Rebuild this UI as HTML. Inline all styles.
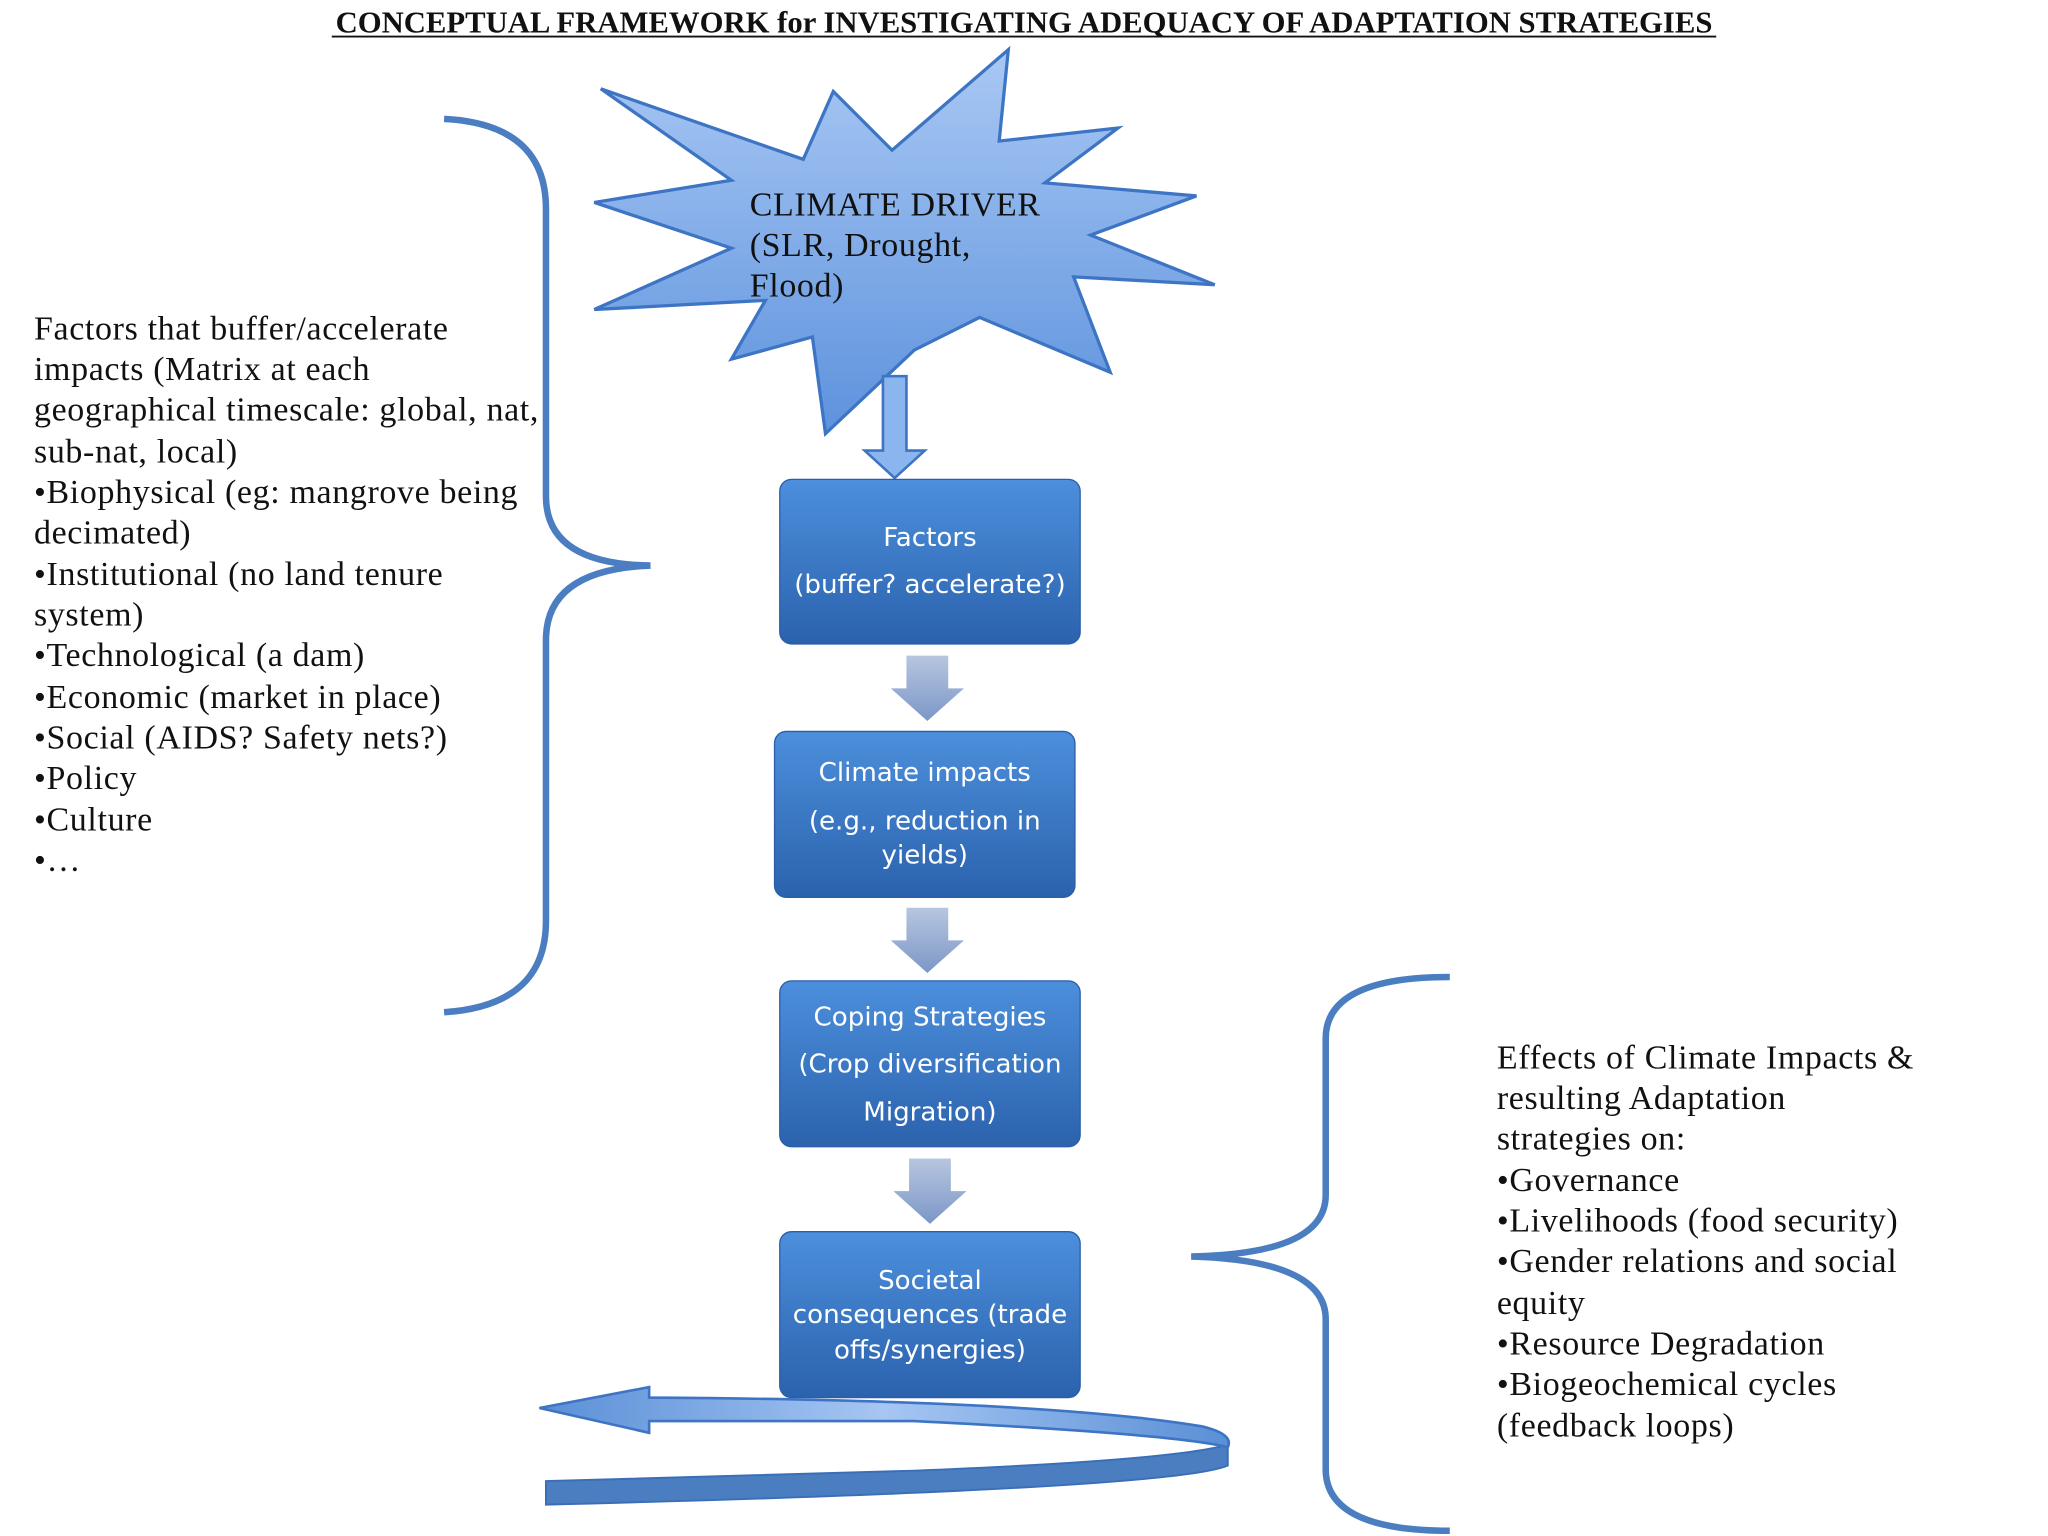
<!DOCTYPE html>
<html><head><meta charset="utf-8"><style>
html,body{margin:0;padding:0;background:#fff;}
svg{display:block;}
.s{font-family:"Liberation Serif","DejaVu Serif",serif;font-size:26px;letter-spacing:0.5px;fill:#111;}
.b{font-family:"DejaVu Sans","Liberation Sans",sans-serif;font-size:20px;fill:#fff;}
</style></head><body>
<svg width="2048" height="1536" viewBox="0 0 1568 1176" xmlns="http://www.w3.org/2000/svg">
<defs>
<linearGradient id="bx" x1="0" y1="0" x2="0" y2="1"><stop offset="0" stop-color="#4c8fdc"/><stop offset="1" stop-color="#2b62ad"/></linearGradient>
<linearGradient id="st" x1="0" y1="0" x2="0" y2="1"><stop offset="0" stop-color="#a9c8f4"/><stop offset="1" stop-color="#5d92dd"/></linearGradient>
<linearGradient id="ga" x1="0" y1="0" x2="0" y2="1"><stop offset="0" stop-color="#b7c6e0"/><stop offset="1" stop-color="#7c97c6"/></linearGradient>
<linearGradient id="ba" x1="0" y1="0" x2="1" y2="0"><stop offset="0" stop-color="#5a8fd6"/><stop offset="0.5" stop-color="#a6c6f3"/><stop offset="1" stop-color="#5a8fd6"/></linearGradient>
</defs>
<text x="784" y="25" text-anchor="middle" font-family="Liberation Serif,serif" font-weight="bold" font-size="23.5" fill="#111">CONCEPTUAL FRAMEWORK for INVESTIGATING ADEQUACY OF ADAPTATION STRATEGIES</text>
<line x1="254" y1="28" x2="1314" y2="28" stroke="#111" stroke-width="1.5"/>

<path d="M460,68 L615,122 L638,70 L683,115 L772,38 L765,108 L856,98 L800,140 L916,150 L835,180 L930,218 L822,212 L850,285 L750,243 L700,268 L632,332 L622,258 L560,275 L586,230 L455,237 L560,190 L455,155 L560,138 Z" fill="url(#st)" stroke="#3d74c4" stroke-width="2.5"/>
<text class="s" x="574" y="165">CLIMATE DRIVER</text>
<text class="s" x="574" y="196">(SLR, Drought,</text>
<text class="s" x="574" y="227">Flood)</text>

<path d="M676,288 L694,288 L694,345 L708,345 L685,366 L662,345 L676,345 Z" fill="#8ab5ee" stroke="#3d74c4" stroke-width="2"/>

<rect x="597" y="367" width="230" height="126" rx="9" fill="url(#bx)" stroke="#2a5ea8"/>
<text class="b" x="712" y="418" text-anchor="middle">Factors</text>
<text class="b" x="712" y="454" text-anchor="middle">(buffer? accelerate?)</text>

<rect x="593" y="560" width="230" height="127" rx="9" fill="url(#bx)" stroke="#2a5ea8"/>
<text class="b" x="708" y="598" text-anchor="middle">Climate impacts</text>
<text class="b" x="708" y="635" text-anchor="middle">(e.g., reduction in</text>
<text class="b" x="708" y="661" text-anchor="middle">yields)</text>

<rect x="597" y="751" width="230" height="127" rx="9" fill="url(#bx)" stroke="#2a5ea8"/>
<text class="b" x="712" y="785" text-anchor="middle">Coping Strategies</text>
<text class="b" x="712" y="821" text-anchor="middle">(Crop diversification</text>
<text class="b" x="712" y="858" text-anchor="middle">Migration)</text>

<rect x="597" y="943" width="230" height="127" rx="9" fill="url(#bx)" stroke="#2a5ea8"/>
<text class="b" x="712" y="987" text-anchor="middle">Societal</text>
<text class="b" x="712" y="1013" text-anchor="middle">consequences (trade</text>
<text class="b" x="712" y="1040" text-anchor="middle">offs/synergies)</text>

<g fill="url(#ga)">
<path d="M694,502 L726,502 L726,527 L738,527 L710,552 L682,527 L694,527 Z"/>
<path d="M694,695 L726,695 L726,720 L738,720 L710,745 L682,720 L694,720 Z"/>
<path d="M696,887 L728,887 L728,912 L740,912 L712,937 L684,912 L696,912 Z"/>
</g>

<path d="M340,91 Q418,95 418,160 L418,380 Q418,432 498,433 Q418,436 418,490 L418,705 Q418,770 340,775" fill="none" stroke="#4a7ec0" stroke-width="5"/>
<path d="M1110,748 Q1015,748 1015,795 L1015,915 Q1015,960 912,962 Q1015,965 1015,1010 L1015,1125 Q1015,1172 1110,1172" fill="none" stroke="#4a7ec0" stroke-width="5"/>

<path d="M418,1134 L700,1126 Q900,1118 940,1106 L940,1122 Q900,1140 418,1152 Z" fill="#4a7ec0" stroke="#3a6fb8" stroke-width="1.5"/>
<path d="M413,1078 L497,1062 L497,1070 Q800,1072 920,1092 Q945,1098 940,1108 Q900,1098 700,1088 L497,1088 L497,1097 Z" fill="url(#ba)" stroke="#3d74c4" stroke-width="2"/>

<g class="s">
<text x="26" y="260">Factors that buffer/accelerate</text>
<text x="26" y="291">impacts (Matrix at each</text>
<text x="26" y="322">geographical timescale: global, nat,</text>
<text x="26" y="354">sub-nat, local)</text>
<text x="26" y="385">•Biophysical (eg: mangrove being</text>
<text x="26" y="416">decimated)</text>
<text x="26" y="448">•Institutional (no land tenure</text>
<text x="26" y="479">system)</text>
<text x="26" y="510">•Technological (a dam)</text>
<text x="26" y="542">•Economic (market in place)</text>
<text x="26" y="573">•Social (AIDS? Safety nets?)</text>
<text x="26" y="604">•Policy</text>
<text x="26" y="636">•Culture</text>
<text x="26" y="667">•…</text>
</g>
<g class="s">
<text x="1146" y="818">Effects of Climate Impacts &amp;</text>
<text x="1146" y="849">resulting Adaptation</text>
<text x="1146" y="880">strategies on:</text>
<text x="1146" y="912">•Governance</text>
<text x="1146" y="943">•Livelihoods (food security)</text>
<text x="1146" y="974">•Gender relations and social</text>
<text x="1146" y="1006">equity</text>
<text x="1146" y="1037">•Resource Degradation</text>
<text x="1146" y="1068">•Biogeochemical cycles</text>
<text x="1146" y="1100">(feedback loops)</text>
</g>
</svg>
</body></html>
